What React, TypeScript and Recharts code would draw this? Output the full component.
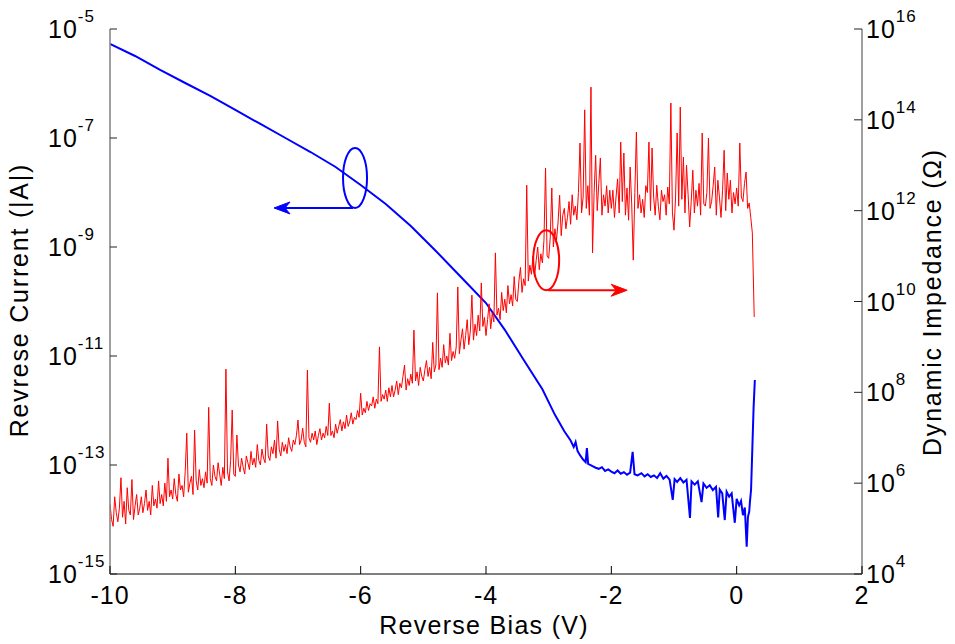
import React from 'react';
import { LineChart, Line, XAxis, YAxis, ReferenceDot } from 'recharts';

const FONT = "Arial, 'Liberation Sans', Helvetica, sans-serif";

const biasTicks = [-10, -8, -6, -4, -2, 0, 2];
const currentTicks = [1e-15, 1e-13, 1e-11, 1e-9, 1e-7, 1e-5];
const impedanceTicks = [1e4, 1e6, 1e8, 1e10, 1e12, 1e14, 1e16];

// blue trace: reverse bias (V) vs log10 |I| (A)
const currentBias = [
  -10, -9.6, -9.2, -8.8, -8.4, -8, -7.6, -7.2, -6.8, -6.4,
  -6, -5.6, -5.2, -4.8, -4.4, -4, -3.7, -3.4, -3.1, -2.9,
  -2.75, -2.65, -2.6, -2.57, -2.54, -2.5, -2.45, -2.41, -2.39, -2.37,
  -2.3, -2.25, -2.2, -2.15, -2.1, -2.05, -2, -1.95, -1.9, -1.85,
  -1.8, -1.75, -1.7, -1.66, -1.63, -1.58, -1.52, -1.47, -1.42, -1.37,
  -1.32, -1.27, -1.22, -1.17, -1.12, -1.07, -1.02, -0.99, -0.95, -0.9,
  -0.85, -0.8, -0.745, -0.72, -0.67, -0.62, -0.56, -0.53, -0.48, -0.43,
  -0.38, -0.33, -0.295, -0.27, -0.23, -0.19, -0.16, -0.12, -0.08, -0.03,
  0, 0.04, 0.07, 0.1, 0.13, 0.16, 0.18, 0.2, 0.21, 0.23,
  0.25, 0.27, 0.29,
];
const currentLog = [
  -5.275, -5.495, -5.752, -5.991, -6.229, -6.486, -6.743, -7.0, -7.257, -7.532,
  -7.862, -8.211, -8.615, -9.073, -9.55, -10.028, -10.52, -11.07, -11.61, -12.08,
  -12.38, -12.55, -12.67, -12.58, -12.74, -12.82, -12.9, -12.95, -12.69, -12.98,
  -13.02, -13.05, -13.07, -13.04, -13.11, -13.08, -13.12, -13.15, -13.1, -13.16,
  -13.13, -13.18, -13.14, -12.76, -13.17, -13.19, -13.15, -13.21, -13.17, -13.22,
  -13.19, -13.24, -13.15, -13.25, -13.2, -13.27, -13.64, -13.26, -13.31, -13.24,
  -13.32, -13.27, -13.97, -13.3, -13.36, -13.3, -13.68, -13.34, -13.42, -13.37,
  -13.46, -13.4, -13.96, -13.45, -13.52, -14.01, -13.49, -13.58, -13.52, -14.06,
  -13.62, -13.74, -13.66, -13.92, -13.78, -14.5, -13.95, -13.86, -13.7, -13.45,
  -12.7, -11.95, -11.44,
];

// red trace: reverse bias (V) vs log10 dynamic impedance (ohm)
const impedanceBias = [
  -10, -9.975, -9.95, -9.925, -9.9, -9.875, -9.85, -9.825, -9.8, -9.775, -9.75, -9.725, -9.7, -9.675, -9.65, -9.625, -9.6, -9.575, -9.55, -9.525,
  -9.5, -9.475, -9.45, -9.425, -9.4, -9.375, -9.35, -9.325, -9.3, -9.275, -9.25, -9.225, -9.2, -9.175, -9.15, -9.125, -9.1, -9.075, -9.05, -9.025,
  -9, -8.975, -8.95, -8.925, -8.9, -8.875, -8.85, -8.825, -8.8, -8.775, -8.75, -8.725, -8.7, -8.675, -8.65, -8.625, -8.6, -8.575, -8.55, -8.525,
  -8.5, -8.475, -8.45, -8.425, -8.4, -8.375, -8.35, -8.325, -8.3, -8.275, -8.25, -8.225, -8.2, -8.175, -8.15, -8.125, -8.1, -8.075, -8.05, -8.025,
  -8, -7.975, -7.95, -7.925, -7.9, -7.875, -7.85, -7.825, -7.8, -7.775, -7.75, -7.725, -7.7, -7.675, -7.65, -7.625, -7.6, -7.575, -7.55, -7.525,
  -7.5, -7.475, -7.45, -7.425, -7.4, -7.375, -7.35, -7.325, -7.3, -7.275, -7.25, -7.225, -7.2, -7.175, -7.15, -7.125, -7.1, -7.075, -7.05, -7.025,
  -7, -6.975, -6.95, -6.925, -6.9, -6.875, -6.85, -6.825, -6.8, -6.775, -6.75, -6.725, -6.7, -6.675, -6.65, -6.625, -6.6, -6.575, -6.55, -6.525,
  -6.5, -6.475, -6.45, -6.425, -6.4, -6.375, -6.35, -6.325, -6.3, -6.275, -6.25, -6.225, -6.2, -6.175, -6.15, -6.125, -6.1, -6.075, -6.05, -6.025,
  -6, -5.975, -5.95, -5.925, -5.9, -5.875, -5.85, -5.825, -5.8, -5.775, -5.75, -5.725, -5.7, -5.675, -5.65, -5.625, -5.6, -5.575, -5.55, -5.525,
  -5.5, -5.475, -5.45, -5.425, -5.4, -5.375, -5.35, -5.325, -5.3, -5.275, -5.25, -5.225, -5.2, -5.175, -5.15, -5.125, -5.1, -5.075, -5.05, -5.025,
  -5, -4.975, -4.95, -4.925, -4.9, -4.875, -4.85, -4.825, -4.8, -4.775, -4.75, -4.725, -4.7, -4.675, -4.65, -4.625, -4.6, -4.575, -4.55, -4.525,
  -4.5, -4.475, -4.45, -4.425, -4.4, -4.375, -4.35, -4.325, -4.3, -4.275, -4.25, -4.225, -4.2, -4.175, -4.15, -4.125, -4.1, -4.075, -4.05, -4.025,
  -4, -3.975, -3.95, -3.925, -3.9, -3.875, -3.85, -3.825, -3.8, -3.775, -3.75, -3.725, -3.7, -3.675, -3.65, -3.625, -3.6, -3.575, -3.55, -3.525,
  -3.5, -3.475, -3.45, -3.425, -3.4, -3.375, -3.35, -3.325, -3.3, -3.275, -3.25, -3.225, -3.2, -3.175, -3.15, -3.125, -3.1, -3.075, -3.05, -3.025,
  -3, -2.975, -2.95, -2.925, -2.9, -2.875, -2.85, -2.825, -2.8, -2.775, -2.75, -2.725, -2.7, -2.675, -2.65, -2.625, -2.6, -2.575, -2.55, -2.525,
  -2.5, -2.475, -2.45, -2.425, -2.4, -2.375, -2.35, -2.325, -2.3, -2.275, -2.25, -2.225, -2.2, -2.175, -2.15, -2.125, -2.1, -2.075, -2.05, -2.025,
  -2, -1.975, -1.95, -1.925, -1.9, -1.875, -1.85, -1.825, -1.8, -1.775, -1.75, -1.725, -1.7, -1.675, -1.65, -1.625, -1.6, -1.575, -1.55, -1.525,
  -1.5, -1.475, -1.45, -1.425, -1.4, -1.375, -1.35, -1.325, -1.3, -1.275, -1.25, -1.225, -1.2, -1.175, -1.15, -1.125, -1.1, -1.075, -1.05, -1.025,
  -1, -0.975, -0.95, -0.925, -0.9, -0.875, -0.85, -0.825, -0.8, -0.775, -0.75, -0.725, -0.7, -0.675, -0.65, -0.625, -0.6, -0.575, -0.55, -0.525,
  -0.5, -0.475, -0.45, -0.425, -0.4, -0.375, -0.35, -0.325, -0.3, -0.275, -0.25, -0.225, -0.2, -0.175, -0.15, -0.125, -0.1, -0.075, -0.05, -0.025,
  0, 0.025, 0.05, 0.075, 0.1, 0.125, 0.15, 0.175, 0.2, 0.225, 0.25, 0.28,
];
const impedanceLog = [
  5.55, 5.2, 5.05, 5.7, 5.35, 5.15, 5.45, 6.12, 5.25, 5.6, 5.1, 5.9, 5.4, 5.3, 6.08, 5.2, 5.5, 5.75, 5.3, 5.45,
  5.7, 5.35, 5.55, 5.85, 5.4, 5.6, 5.3, 5.95, 5.5, 5.65, 5.45, 6.05, 5.55, 5.75, 5.5, 6.0, 5.6, 6.55, 5.7, 5.85,
  5.65, 6.1, 5.75, 5.6, 6.2, 5.85, 5.95, 5.7, 6.25, 7.1, 5.8, 6.0, 6.15, 5.75, 7.17, 6.05, 5.85, 6.3, 5.95, 6.1,
  5.9, 6.25, 6.0, 7.67, 6.1, 5.95, 6.4, 6.15, 6.05, 6.45, 6.2, 5.95, 6.35, 6.1, 8.51, 6.25, 6.05, 6.5, 7.61, 6.2,
  6.15, 7.06, 6.4, 6.25, 6.55, 6.35, 6.2, 6.6, 6.45, 6.3, 6.7, 6.4, 6.55, 6.35, 6.85, 6.5, 6.4, 6.75, 6.55, 6.45,
  7.3, 6.6, 6.5, 6.8, 6.65, 6.95, 6.55, 7.37, 6.75, 6.6, 6.9, 6.7, 6.85, 6.65, 7.0, 6.8, 6.7, 6.95, 6.85, 7.05,
  7.39, 6.85, 6.95, 7.21, 6.9, 6.8, 8.49, 7.0, 6.9, 7.1, 6.95, 7.15, 6.85, 7.05, 7.2, 6.95, 7.1, 7.0, 7.25, 7.05,
  7.76, 7.05, 7.15, 7.0, 7.3, 7.1, 7.25, 7.4, 7.15, 7.35, 7.2, 7.5, 7.25, 7.35, 7.55, 7.3, 7.45, 7.4, 7.6, 7.45,
  7.98, 7.5, 7.65, 7.55, 7.8, 7.6, 7.75, 7.7, 7.9, 7.65, 7.85, 7.75, 9.0, 7.8, 7.95, 7.85, 8.05, 7.8, 8.1, 7.9,
  8.15, 7.9, 8.05, 8.25, 7.95, 8.2, 8.1, 8.35, 8.6, 8.05, 8.3, 8.15, 8.4, 8.2, 9.37, 8.25, 8.45, 8.15, 8.55, 8.35,
  8.25, 8.5, 8.7, 8.35, 8.55, 8.3, 9.1, 8.45, 8.6, 10.19, 8.5, 8.75, 8.55, 9.05, 8.65, 8.8, 8.6, 9.3, 8.7, 8.9,
  8.75, 9.0, 10.32, 8.85, 9.15, 9.4, 8.95, 9.25, 9.6, 9.05, 9.35, 10.14, 9.15, 9.5, 9.25, 9.7, 9.35, 10.41, 9.45, 9.65,
  9.25, 9.6, 9.95, 9.4, 9.75, 9.55, 11.07, 9.7, 9.85, 9.6, 10.2, 9.8, 10.05, 9.75, 10.35, 9.95, 10.15, 9.9, 10.55, 10.05,
  10.0, 10.45, 10.75, 10.2, 10.5, 10.35, 12.56, 10.45, 10.8, 10.6, 11.0, 10.55, 10.9, 11.2, 10.7, 11.05, 10.85, 11.35, 12.94, 11.0,
  10.95, 11.4, 12.5, 11.2, 11.6, 11.35, 11.75, 12.34, 11.45, 11.9, 12.05, 11.6, 11.85, 12.2, 11.7, 12.35, 11.9, 12.1, 11.8, 12.4,
  13.49, 11.95, 12.3, 14.22, 12.05, 12.55, 11.9, 14.72, 11.07, 12.4, 13.22, 12.0, 12.6, 13.16, 11.9, 12.35, 12.1, 12.55, 11.95, 12.45,
  12.05, 12.45, 11.85, 12.3, 12.7, 11.95, 13.51, 12.2, 13.27, 11.9, 12.5, 11.79, 12.96, 12.15, 10.91, 12.4, 13.73, 12.05, 12.35, 11.95,
  12.25, 11.85, 12.55, 12.4, 13.51, 12.0, 13.38, 12.3, 11.9, 12.56, 12.1, 11.8, 12.45, 12.2, 12.35, 11.9, 12.52, 12.15, 14.37, 11.95,
  11.57, 12.3, 13.71, 12.1, 14.28, 12.25, 13.18, 11.95, 13.0, 12.35, 11.64, 12.2, 12.89, 11.95, 12.45, 12.1, 12.6, 11.9, 13.71, 12.15,
  12.1, 12.4, 13.6, 12.05, 12.2, 12.55, 12.96, 11.9, 12.67, 12.3, 11.85, 12.45, 13.33, 12.0, 12.83, 12.25, 12.67, 11.95, 12.4, 12.15,
  12.5, 12.1, 13.49, 12.3, 12.2, 12.6, 12.85, 12.05, 12.17, 11.85, 11.51, 9.66,
];

const currentRows = currentBias.map((v, i) => ({ v, i: 10 ** currentLog[i] }));
const impedanceRows = impedanceBias.map((v, i) => ({ v, z: 10 ** impedanceLog[i] }));

const exponent = (val: number) => Math.round(Math.log10(val));

const LeftTick = (props: any) => {
  const { x, y, payload } = props;
  return (
    <g>
      <line x1={x} y1={y} x2={x + 7} y2={y} stroke="#222" />
      <text x={x - 62} y={y + 9} fontSize={25} fontFamily={FONT} fill="#000" letterSpacing={1}>
        10
        <tspan dy={-16} fontSize={17}>{exponent(payload.value)}</tspan>
      </text>
    </g>
  );
};

const RightTick = (props: any) => {
  const { x, y, payload } = props;
  return (
    <g>
      <line x1={x} y1={y} x2={x - 8} y2={y} stroke="#222" />
      <text x={x + 4} y={y + 9} fontSize={25} fontFamily={FONT} fill="#000" letterSpacing={1}>
        10
        <tspan dy={-16} fontSize={17}>{exponent(payload.value)}</tspan>
      </text>
    </g>
  );
};

const BottomTick = (props: any) => {
  const { x, y, payload } = props;
  return (
    <g>
      <line x1={x} y1={y} x2={x} y2={y - 8} stroke="#000" />
      <text x={x} y={y + 30} textAnchor="middle" fontSize={25} fontFamily={FONT} fill="#000" letterSpacing={1}>
        {String(payload.value)}
      </text>
    </g>
  );
};

// ellipse around the trace with an arrow pointing to its axis
const BlueMarker = (props: any) => {
  const { cx, cy } = props;
  const ay = cy + 30;
  const tip = cx - 81;
  return (
    <g>
      <ellipse cx={cx} cy={cy} rx={12} ry={30} fill="none" stroke="#0000ff" strokeWidth={2} />
      <line x1={cx - 2} y1={ay} x2={tip + 8} y2={ay} stroke="#0000ff" strokeWidth={2} />
      <path d={`M${tip},${ay} L${tip + 16},${ay - 6} L${tip + 11},${ay} L${tip + 16},${ay + 6} Z`} fill="#0000ff" stroke="#0000ff" />
    </g>
  );
};

const RedMarker = (props: any) => {
  const { cx, cy } = props;
  const ay = cy + 30;
  const tip = cx + 81;
  return (
    <g>
      <ellipse cx={cx} cy={cy} rx={13} ry={30} fill="none" stroke="#ff0000" strokeWidth={2} />
      <line x1={cx + 2} y1={ay} x2={tip - 8} y2={ay} stroke="#ff0000" strokeWidth={2} />
      <path d={`M${tip},${ay} L${tip - 16},${ay - 6} L${tip - 11},${ay} L${tip - 16},${ay + 6} Z`} fill="#ff0000" stroke="#ff0000" />
    </g>
  );
};

export default function App() {
  return (
    <div style={{ position: 'relative', width: 955, height: 644, background: '#fff' }}>
      <style>{'body{margin:0}'}</style>
      <LineChart width={955} height={644} margin={{ top: 29, right: 0, bottom: 0, left: 0 }}>
        <XAxis
          type="number"
          dataKey="v"
          domain={[-10, 2]}
          ticks={biasTicks}
          allowDataOverflow
          height={70}
          tickSize={0}
          tickMargin={0}
          tick={<BottomTick />}
          axisLine={{ stroke: '#000', strokeWidth: 1 }}
        />
        <YAxis
          yAxisId="i"
          scale="log"
          domain={[1e-15, 1e-5]}
          ticks={currentTicks}
          allowDataOverflow
          width={110}
          tickSize={0}
          tickMargin={0}
          tick={<LeftTick />}
          axisLine={{ stroke: '#808080', strokeWidth: 1.5 }}
        />
        <YAxis
          yAxisId="z"
          orientation="right"
          scale="log"
          domain={[1e4, 1e16]}
          ticks={impedanceTicks}
          allowDataOverflow
          width={93}
          tickSize={0}
          tickMargin={0}
          tick={<RightTick />}
          axisLine={{ stroke: '#808080', strokeWidth: 1.5 }}
        />
        <Line
          yAxisId="i"
          data={currentRows}
          dataKey="i"
          type="linear"
          stroke="#0000ff"
          strokeWidth={2}
          dot={false}
          isAnimationActive={false}
        />
        <Line
          yAxisId="z"
          data={impedanceRows}
          dataKey="z"
          type="linear"
          stroke="#ff0000"
          strokeWidth={1}
          dot={false}
          isAnimationActive={false}
        />
        <ReferenceDot yAxisId="i" x={-6.09} y={1.85e-8} shape={<BlueMarker />} />
        <ReferenceDot yAxisId="z" x={-3.04} y={8.1e10} shape={<RedMarker />} />
      </LineChart>
      <svg width={955} height={644} style={{ position: 'absolute', left: 0, top: 0, pointerEvents: 'none' }}>
        <text transform="translate(28,300) rotate(-90)" textAnchor="middle" fontSize={25} fontFamily={FONT} letterSpacing={1.8}>
          Revrese Current (|A|)
        </text>
        <text transform="translate(941,302) rotate(-90)" textAnchor="middle" fontSize={25} fontFamily={FONT} letterSpacing={1.8}>
          Dynamic Impedance (Ω)
        </text>
        <text x={484} y={634} textAnchor="middle" fontSize={25} fontFamily={FONT} letterSpacing={1.3}>
          Reverse Bias (V)
        </text>
      </svg>
    </div>
  );
}
